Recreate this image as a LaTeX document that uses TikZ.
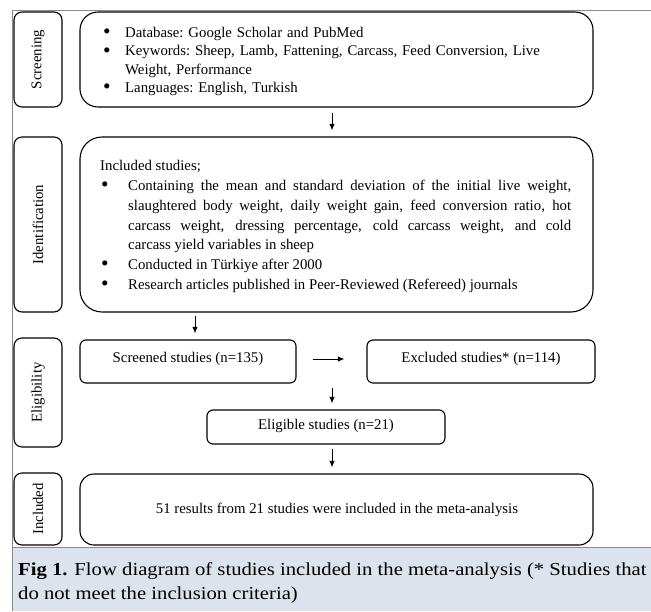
\documentclass[tikz,border=0pt]{standalone}
\usepackage{fontspec}
\setmainfont{Liberation Serif}
\newfontfamily\capfont[FakeStretch=1.13]{Liberation Serif}
\usetikzlibrary{arrows.meta,calc}
\definecolor{capblue}{HTML}{DDE3ED}
\definecolor{framegray}{HTML}{8A8A8A}
\newcommand\mybul[1]{\par\noindent\hangindent=#1\hangafter=1\makebox[#1][l]{\hspace{1pt}\smash{\raisebox{-1.3pt}{\scalebox{1.45}{\textbullet}}}}}
\begin{document}
\begin{tikzpicture}[x=1pt,y=-1pt,
  box/.style={draw=black, line width=1.1pt, inner sep=0pt},
  side/.style={box, rounded corners=8pt, rotate=90, font=\fontsize{14.8}{17}\selectfont},
  big/.style={box, rounded corners=18pt},
  small/.style={box, rounded corners=6pt, font=\fontsize{14.8}{17}\selectfont},
  arr/.style={-{Latex[length=6.5pt,width=5.5pt]}, line width=1pt},
  txt/.style={inner sep=0pt, anchor=north west, font=\fontsize{14.8}{18.3}\selectfont\frenchspacing},
  frame/.style={draw=framegray, line width=0.8pt}
]
\useasboundingbox (0,0) rectangle (651,611);
% caption panel and frame
\fill[capblue] (12,547) rectangle (651,611);
\draw[frame] (12,547) -- (651,547);
\draw[frame] (651,10) -- (12,10) -- (12,611);

% side labels
\node[side, minimum width=95pt, minimum height=48pt] (lscr) at (38,59.5) {Screening};
\node[side, minimum width=175pt, minimum height=48pt] (lide) at (38,224.5) {Identification};
\node[side, minimum width=109pt, minimum height=48pt] (leli) at (38,392.5) {Eligibility};
\node[side, minimum width=72pt, minimum height=48pt] (linc) at (38,509) {Included};

% main boxes
\node[big, minimum width=513pt, minimum height=95pt] (scr) at (336.5,59.5) {};
\node[big, rounded corners=22pt, minimum width=513pt, minimum height=175pt] (ide) at (336.5,224.5) {};
\node[small, minimum width=216pt, minimum height=43pt] (scd) at (188,361.5) {};
\node[small, minimum width=228pt, minimum height=43pt] (exc) at (481,361.5) {};
\node[small, minimum width=238pt, minimum height=34pt] (eli) at (326,427) {};
\node[big, rounded corners=14pt, minimum width=513pt, minimum height=71pt] (inc) at (336.5,509.5) {};

% texts
\node[txt, text width=480pt, align=left] (scrtxt) at (102,19) {%
\mybul{23pt}Database: Google Scholar and PubMed\par
\mybul{23pt}Keywords: Sheep, Lamb, Fattening, Carcass, Feed Conversion, Live\newline Weight, Performance\par
\mybul{23pt}Languages: English, Turkish\par};

\node[txt, text width=471pt, align=justify, font=\fontsize{14.8}{19.7}\selectfont] (idetxt) at (100,160.5) {%
\noindent Included studies;\par
\mybul{28pt}Containing the mean and standard deviation of the initial live weight,\linebreak
slaughtered body weight, daily weight gain, feed conversion ratio, hot\linebreak
carcass weight, dressing percentage, cold carcass weight, and cold\linebreak
carcass yield variables in sheep\par
\mybul{28pt}Conducted in Türkiye after 2000\par
\mybul{28pt}Research articles published in Peer-Reviewed (Refereed) journals\par};

\node[inner sep=0pt, font=\fontsize{14.8}{17}\selectfont] (scdtxt) at (188,359) {Screened studies (n=135)};
\node[inner sep=0pt, font=\fontsize{14.8}{17}\selectfont] (exctxt) at (481,359) {Excluded studies* (n=114)};
\node[inner sep=0pt, font=\fontsize{14.8}{17}\selectfont] (elitxt) at (326,426) {Eligible studies (n=21)};
\node[inner sep=0pt, font=\fontsize{14.8}{17}\selectfont] (inctxt) at (337,510) {51 results from 21 studies were included in the meta-analysis};

% connectors
\coordinate (ax) at (332,0);
\coordinate (bx) at (195,0);
\draw[arr, shorten <=5pt, shorten >=6pt] (scr.south -| ax) -- (ide.north -| ax);
\draw[arr, shorten <=3pt, shorten >=6pt] (ide.south -| bx) -- (scd.north -| bx);
\draw[arr, shorten <=16pt, shorten >=22pt] (scd.east |- scdtxt) -- (exc.west |- scdtxt);
\draw[arr, shorten <=4pt, shorten >=6pt] (scd.south -| ax) -- (eli.north -| ax);
\draw[arr, shorten <=4pt, shorten >=6pt] (eli.south -| ax) -- (inc.north -| ax);

% caption
\node[inner sep=0pt, anchor=north west, align=left, font=\capfont\fontsize{18.3}{24.5}\selectfont] (cap) at (18,562) {\textbf{Fig 1.} Flow diagram of studies included in the meta-analysis (* Studies that\\do not meet the inclusion criteria)};
\end{tikzpicture}
\end{document}
